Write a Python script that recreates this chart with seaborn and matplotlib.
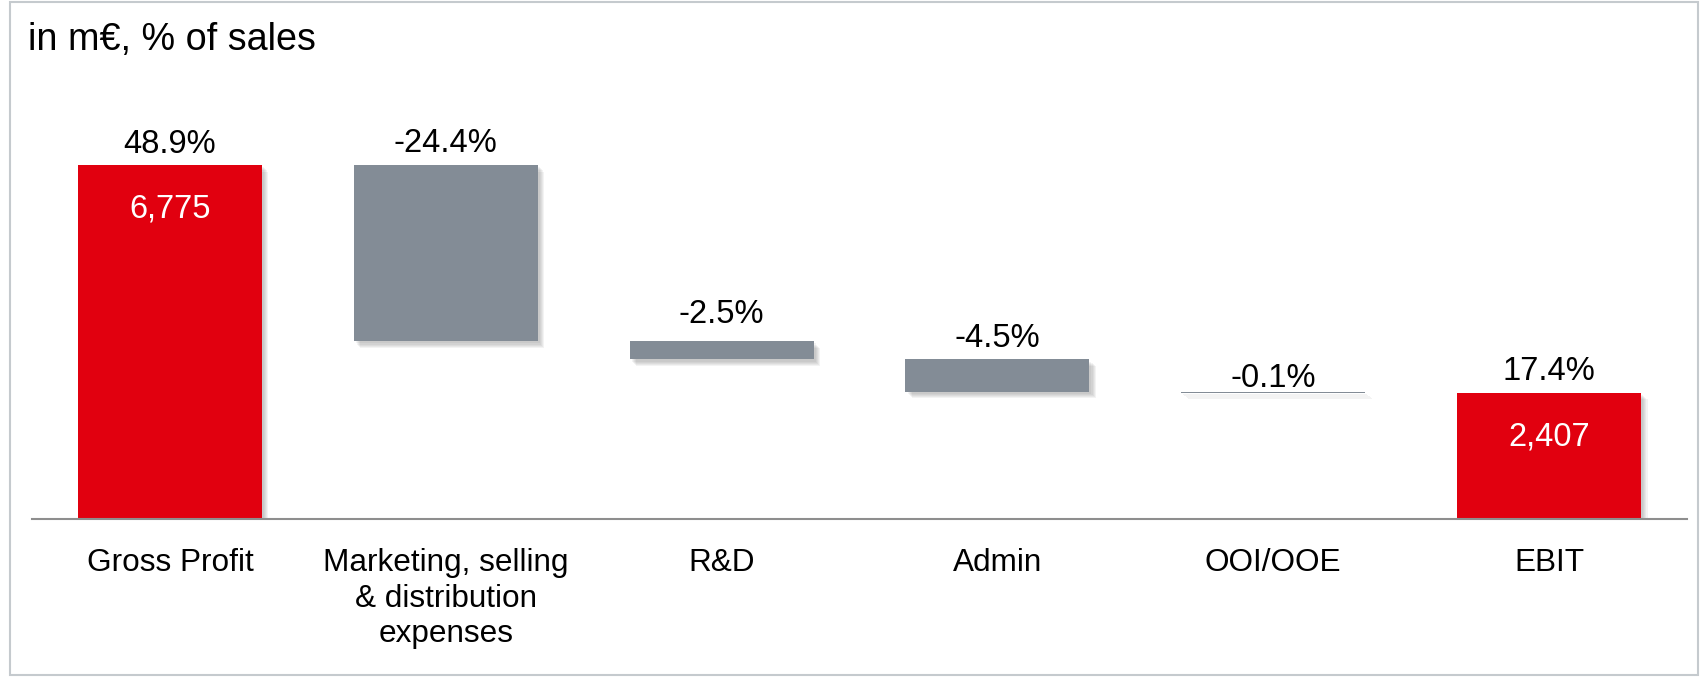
import matplotlib
matplotlib.use("Agg")
import matplotlib.pyplot as plt
import matplotlib.patheffects as pe
from matplotlib.patches import Rectangle
import seaborn as sns
import pandas as pd
import numpy as np

# ---- data ----
categories = ["Gross Profit", "Marketing, selling\n& distribution\nexpenses",
              "R&D", "Admin", "OOI/OOE", "EBIT"]
values = [6775, -3381, -346, -623, -18, 2407]          # m€
is_total = [True, False, False, False, False, True]
pct_labels = ["48.9%", "-24.4%", "-2.5%", "-4.5%", "-0.1%", "17.4%"]
value_labels = ["6,775", "", "", "", "", "2,407"]

RED = "#E1000F"
GRAY = "#838C96"

# waterfall geometry from the data
running = 0.0
bottoms, heights, tops = [], [], []
for v, tot in zip(values, is_total):
    if tot:
        bottoms.append(0.0); heights.append(v); tops.append(v)
        running = v
    else:
        new = running + v
        bottoms.append(new); heights.append(-v); tops.append(running)
        running = new

df = pd.DataFrame({"cat": categories, "bottom": bottoms, "height": heights,
                   "top": tops, "total": is_total})

sns.set_theme(style="white")
plt.rcParams["font.family"] = ["Liberation Sans", "DejaVu Sans"]

fig = plt.figure(figsize=(17.05, 6.77), dpi=100)
ax = fig.add_axes([32 / 1705, 1 - 518.5 / 677, (1687 - 32) / 1705, (518.5 - 60) / 677])

tot_df = df[df.total]
del_df = df[~df.total]
sns.barplot(data=tot_df, x="cat", y="height", order=categories, color=RED,
            saturation=1, width=0.667, ax=ax, linewidth=0)
sns.barplot(data=del_df, x="cat", y="height", order=categories, color=GRAY,
            saturation=1, width=0.667, ax=ax, linewidth=0,
            bottom=del_df["bottom"].to_numpy())

shadow = [pe.SimplePatchShadow(offset=(1.5 + 0.8 * i, -1.5 - 0.8 * i),
                               shadow_rgbFace="#555555", alpha=0.07) for i in range(5)]
for p in ax.patches:
    p.set_path_effects(shadow + [pe.Normal()])

ax.set_xlim(-0.5, 5.5)
ax.set_ylim(0, 8787)
ax.set_xlabel("")
ax.set_ylabel("")
ax.set_yticks([])
for s in ["left", "right", "top"]:
    ax.spines[s].set_visible(False)
ax.spines["bottom"].set_color("#8E8E8E")
ax.spines["bottom"].set_linewidth(1.5)
ax.tick_params(axis="x", length=0, pad=21.5, labelsize=22.7, labelcolor="black")
ax.set_xticks(range(len(categories)))
ax.set_xticklabels(categories, linespacing=1.23)

pct_gap_px = [12, 13, 18, 12, 5, 13]
for i, (t, lab, g) in enumerate(zip(tops, pct_labels, pct_gap_px)):
    ax.annotate(lab, (i, t), xytext=(0, g * 0.72), textcoords="offset points",
                ha="center", va="baseline", fontsize=23.5, color="black")
for i, (t, lab) in enumerate(zip(tops, value_labels)):
    if lab:
        ax.annotate(lab, (i, t), xytext=(0, -32), textcoords="offset points",
                    ha="center", va="center", fontsize=23.5, color="white")

fig.text(28 / 1705, 1 - 50 / 677, "in m€, % of sales", fontsize=27.2,
         ha="left", va="baseline", color="black")

fig.add_artist(Rectangle((10 / 1705, 2 / 677), 1688 / 1705, 673 / 677,
                         transform=fig.transFigure, fill=False,
                         edgecolor="#C5CACE", linewidth=1.5))

fig.savefig("out.png", dpi=100)
